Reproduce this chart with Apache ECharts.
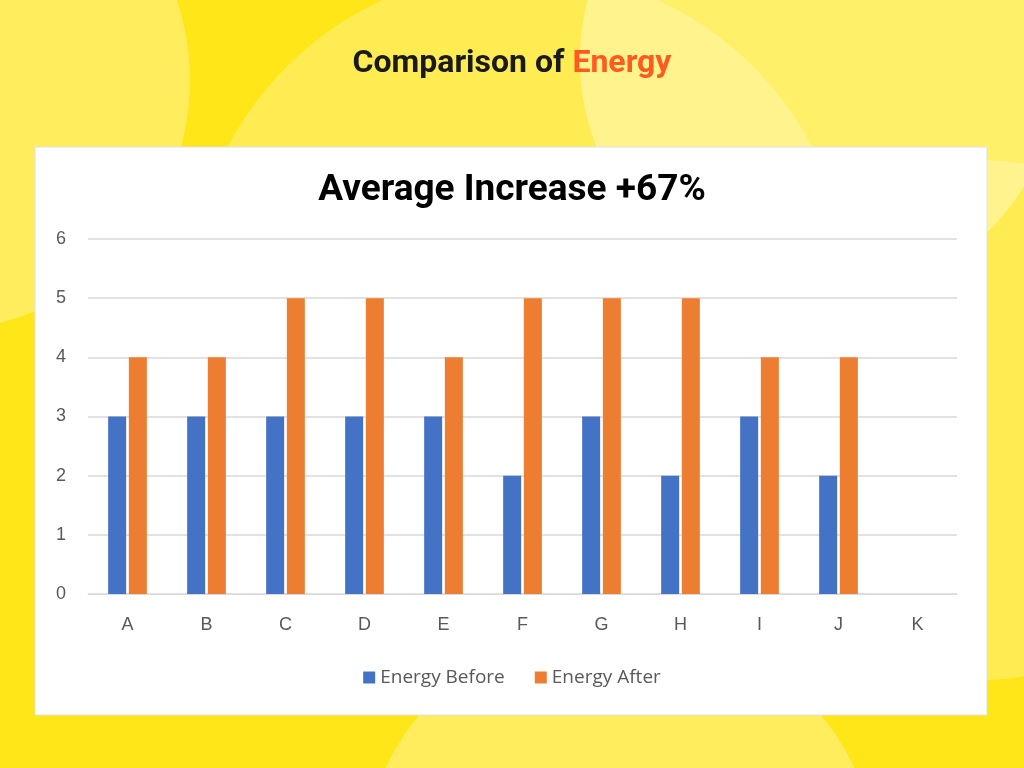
<!DOCTYPE html>
<html>
<head>
<meta charset="utf-8">
<script src="https://cdn.jsdelivr.net/npm/echarts@6/dist/echarts.min.js"></script>
<style>
html,body{margin:0;padding:0;}
#main{width:1024px;height:768px;}
</style>
</head>
<body>
<div id="main"></div>
<script>
var categories = ['A','B','C','D','E','F','G','H','I','J','K'];
var energyBefore = [3,3,3,3,3,2,3,2,3,2,null];
var energyAfter = [4,4,5,5,4,5,5,5,4,4,null];

var chart = echarts.init(document.getElementById('main'));
var option = {
    backgroundColor: '#FFE619',
    graphic: [
        {type:'circle', shape:{cx:820,cy:60,r:240}, style:{fill:'rgba(255,255,255,0.35)'}, z:-10},
        {type:'circle', shape:{cx:520,cy:300,r:330}, style:{fill:'rgba(255,255,255,0.25)'}, z:-10},
        {type:'circle', shape:{cx:-60,cy:80,r:250}, style:{fill:'rgba(255,255,255,0.3)'}, z:-10},
        {type:'circle', shape:{cx:980,cy:420,r:260}, style:{fill:'rgba(255,255,255,0.25)'}, z:-10},
        {type:'circle', shape:{cx:620,cy:880,r:260}, style:{fill:'rgba(255,255,255,0.3)'}, z:-10},
        {type:'rect', shape:{x:35,y:147,width:952,height:568}, style:{fill:'#ffffff', stroke:'#e0e0e0', lineWidth:1}, z:-5},
        {type:'text', left:'center', top:48, style:{
            rich:{a:{fill:'#1a1a1a',fontSize:32,fontWeight:'bold',fontFamily:'Roboto'},
                  b:{fill:'#FF5A1F',fontSize:32,fontWeight:'bold',fontFamily:'Roboto'}},
            text:'{a|Comparison of }{b|Energy}'}},
        {type:'text', left:'center', top:172, style:{
            text:'Average Increase +67%', fill:'#000', fontSize:37, fontWeight:'bold', fontFamily:'Roboto'}}
    ],
    color: ['#4472C4','#ED7D31'],
    legend: {
        bottom: 76,
        itemWidth: 12, itemHeight: 12, itemGap: 30,
        icon: 'rect',
        textStyle: {color:'#595959', fontSize:19, fontFamily:'Open Sans'},
        data: ['Energy Before','Energy After']
    },
    grid: {left: 88, right: 67, top: 239, bottom: 174},
    xAxis: {
        type: 'category',
        data: categories,
        axisTick: {show:false},
        axisLine: {lineStyle:{color:'#d9d9d9'}},
        axisLabel: {color:'#595959', fontSize:18, margin:22}
    },
    yAxis: {
        type: 'value',
        min: 0, max: 6, interval: 1,
        axisLabel: {color:'#595959', fontSize:18, margin:22},
        splitLine: {lineStyle:{color:'#d9d9d9', width:1.5}}
    },
    series: [
        {name:'Energy Before', type:'bar', barWidth:18, barGap:'15%', data:energyBefore},
        {name:'Energy After', type:'bar', barWidth:18, data:energyAfter}
    ]
};
chart.setOption(option);
</script>
</body>
</html>
